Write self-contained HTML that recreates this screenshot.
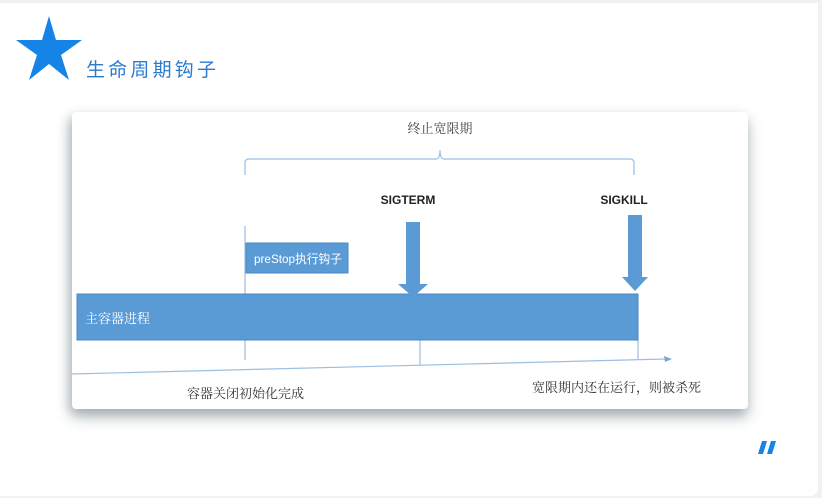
<!DOCTYPE html>
<html><head><meta charset="utf-8">
<style>
html,body{margin:0;padding:0;width:822px;height:498px;overflow:hidden;background:#f0f1f3;}
.card{position:absolute;left:0;top:3px;width:818px;height:493px;background:#fff;border-radius:0 0 8px 0;}
.shot{position:absolute;left:72px;top:112px;width:676px;height:297px;background:#fff;border-radius:4px;box-shadow:0 8px 14px rgba(90,110,120,0.45),-4px 4px 10px rgba(90,110,120,0.25);}
svg{position:absolute;left:0;top:0;}
</style></head><body>
<div class="card"></div>
<div class="shot"></div>
<svg width="822" height="498" viewBox="0 0 822 498" xmlns="http://www.w3.org/2000/svg">
<polygon points="49,16 56,40 82,40 61,55 69,80 49,64 29,80 37,55 16,40 42,40" fill="#1683e6"/>
<text x="86" y="76" font-family="Liberation Sans,'Noto Sans CJK SC',sans-serif" font-size="19" fill="#2a7bd0" letter-spacing="3.2">生命周期钩子</text>
<g fill="none" stroke="#9cbfe0" stroke-width="1.2">
<path d="M245,175 V163 Q245,159 249,159 H436 Q440,159 440,150 Q440,159 444,159 H630 Q634,159 634,163 V175"/>
<path d="M245,226 V360"/>
<path d="M420,340 V365"/>
<path d="M638,340 V359"/>
<path d="M72,374 L666,359"/>
</g>
<polygon points="672,359 664,356 665,362" fill="#7aa6d6"/>
<text x="440" y="133" text-anchor="middle" font-family="'Noto Serif CJK SC',serif" font-size="13" fill="#444">终止宽限期</text>
<text x="408" y="204" text-anchor="middle" font-family="Liberation Sans,sans-serif" font-size="12" font-weight="bold" fill="#222">SIGTERM</text>
<text x="624" y="204" text-anchor="middle" font-family="Liberation Sans,sans-serif" font-size="12" font-weight="bold" fill="#222">SIGKILL</text>
<rect x="246" y="243" width="102" height="30" fill="#5b9bd5" stroke="#4a88c2"/>
<text x="254" y="263" font-family="Liberation Sans,'Noto Sans CJK SC',sans-serif" font-size="12" fill="#fff" textLength="88" lengthAdjust="spacingAndGlyphs">preStop执行钩子</text>
<rect x="77" y="294" width="561" height="46" fill="#5b9bd5" stroke="#4a88c2"/>
<text x="85" y="323" font-family="'Noto Serif CJK SC',serif" font-size="13" fill="#fff">主容器进程</text>
<polygon points="406,222 420,222 420,284 428,284 413,297 398,284 406,284" fill="#5b9bd5"/>
<polygon points="628,215 642,215 642,277 648,277 635,291 622,277 628,277" fill="#5b9bd5"/>
<text x="187" y="398" font-family="'Noto Serif CJK SC',serif" font-size="13" fill="#333">容器关闭初始化完成</text>
<text x="532" y="392" font-family="'Noto Serif CJK SC',serif" font-size="13" fill="#333">宽限期内还在运行，则被杀死</text>
<polygon points="762,441 767,441 763,454 758,454" fill="#1683e6"/>
<polygon points="771,441 776,441 772,454 767,454" fill="#1683e6"/>
</svg>
</body></html>
